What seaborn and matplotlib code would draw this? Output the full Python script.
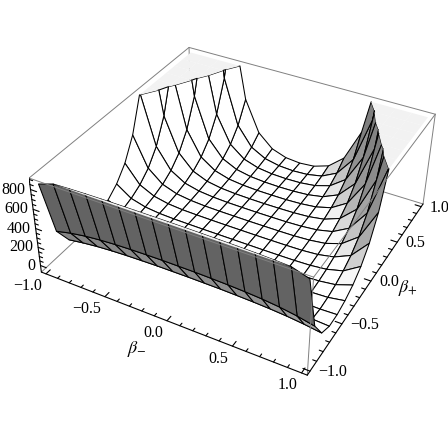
import numpy as np
import matplotlib
matplotlib.use('Agg')
import matplotlib.pyplot as plt
import seaborn as sns
from mpl_toolkits.mplot3d import proj3d
from mpl_toolkits.mplot3d.art3d import Poly3DCollection

# ── data: surface height (symmetric in beta_minus) ──
beta_minus_half = [0, .125, .25, .375, .5, .625, .75, .875, 1]
beta_plus = [-1, -.875, -.75, -.625, -.5, -.375, -.25, -.125, 0, .125, .25, .375, .5, .625, .75, .875, 1]
z_half = [
    [984, 983, 980, 975, 966, 951, 928, 894, 842],
    [358, 358, 355, 351, 344, 333, 316, 290, 253],
    [128, 127, 126, 122, 117, 109, 97, 79, 55],
    [45, 44, 43, 41, 37, 31, 23, 13, 3],
    [15, 14, 13, 12, 9, 6, 2, 0, 6],
    [4, 4, 3, 2, 1, 0, 1, 9, 38],
    [0, 0, 0, 0, 0, 2, 10, 32, 92],
    [-1, -1, -1, 0, 2, 8, 26, 70, 180],
    [-1, -1, 0, 2, 6, 19, 52, 129, 320],
    [-1, 0, 1, 4, 14, 36, 92, 224, 545],
    [-1, 0, 2, 9, 25, 63, 158, 379, 912],
    [-1, 1, 5, 16, 43, 108, 266, 633, 1518],
    [0, 1, 9, 27, 73, 180, 442, 1050, 2511],
    [0, 3, 15, 46, 121, 299, 731, 1734, 4143],
    [0, 5, 25, 76, 199, 494, 1208, 2865, 6847],
    [0, 9, 42, 127, 331, 816, 1993, 4726, 11290],
    [0, 14, 69, 209, 545, 1345, 3286, 7790, 18600],
]
z_top = 894
x_lim = (-1.04, 1.04)
y_lim = (-1.04, 1.04)
z_lim = (-73, 914)
x_ticks = [-1.0, -0.5, 0.0, 0.5, 1.0]
y_ticks = [-1.0, -0.5, 0.0, 0.5, 1.0]
z_ticks = [0, 200, 400, 600, 800]
minor_ticks = [-.9, -.8, -.7, -.6, -.4, -.3, -.2, -.1, .1, .2, .3, .4, .6, .7, .8, .9]
z_minor = [50, 100, 150, 250, 300, 350, 450, 500, 550, 650, 700, 750, 850, 900]

sns.set_theme(style='white')
plt.rcParams['font.family'] = ['Liberation Serif', 'DejaVu Serif']
plt.rcParams['mathtext.fontset'] = 'stix'

W, H = 448, 446
fig = plt.figure(figsize=(W / 100, H / 100), dpi=100)
ax = fig.add_subplot(projection='3d', computed_zorder=False)
ax.set_xlim(*x_lim, view_margin=0)
ax.set_ylim(*y_lim, view_margin=0)
ax.set_zlim(*z_lim, view_margin=0)
ax.set_axis_off()
ax.patch.set_alpha(0)

# camera fitted to the box corners of the picture
box_h = 0.391
ax.view_init(elev=35.93, azim=-62.07, roll=-0.67)
ax.set_proj_type('persp', focal_length=0.477)
ax.set_box_aspect((1, 1, box_h))

s, tx, ty = 2232.2, 241.2, 192.0
inv = ax.transLimits.inverted()
v0 = inv.transform((0, 0))
v1 = inv.transform((1, 1))
left = s * v0[0] + tx
right = s * v1[0] + tx
top = -s * v1[1] + ty
bottom = -s * v0[1] + ty
ax.set_position([left / W, 1 - bottom / H, (right - left) / W, (bottom - top) / H])

# ── surface ──
z_half = np.array(z_half, float)
zz = np.hstack([z_half[:, :0:-1], z_half])
mm = np.array([-v for v in beta_minus_half[:0:-1]] + beta_minus_half)
pp = np.array(beta_plus)
shade_map = sns.blend_palette(['#636363', '#ffffff'], as_cmap=True)
light = np.array([.6, -.5, .6])
bx, by, bz = 1 / 2.08, 1 / 2.08, box_h / 987


def clip(pts, below=True):
    out = []
    for a, b in zip(pts, pts[1:] + pts[:1]):
        ain = a[2] <= z_top if below else a[2] >= z_top
        bin_ = b[2] <= z_top if below else b[2] >= z_top
        if ain:
            out.append((a[0], a[1], min(a[2], z_top)) if below else (a[0], a[1], z_top))
        if ain != bin_:
            u = (z_top - a[2]) / (b[2] - a[2])
            out.append((a[0] + u * (b[0] - a[0]), a[1] + u * (b[1] - a[1]), z_top))
    return out


polys, faces, edges = [], [], []
for i in range(len(pp) - 1):
    for j in range(len(mm) - 1):
        q = [(mm[j], pp[i], zz[i, j]), (mm[j + 1], pp[i], zz[i, j + 1]),
             (mm[j + 1], pp[i + 1], zz[i + 1, j + 1]), (mm[j], pp[i + 1], zz[i + 1, j])]
        d1 = np.array(q[2]) - np.array(q[0])
        d2 = np.array(q[3]) - np.array(q[1])
        n = np.cross(d1 * [bx, by, bz], d2 * [bx, by, bz])
        n = n / np.linalg.norm(n)
        tone = np.clip(.62 + .9 * n.dot(light), 0, 1)
        tone = max((tone - .38) / .62, 0)
        low = clip(q, True)
        high = clip(q, False)
        if len(high) >= 3:
            polys.append(high)
            faces.append('#f2f2f2')
            edges.append((0, 0, 0, 0))
        if len(low) >= 3:
            polys.append(low)
            faces.append(shade_map(tone))
            edges.append((0, 0, 0, 1))

surf = Poly3DCollection(polys, facecolors=faces, edgecolors=edges, linewidths=.75, zorder=2)
ax.add_collection3d(surf, autolim=False)

# ── box ──
x0, x1 = x_lim
y0, y1 = y_lim
z0, z1 = z_lim
grey = dict(color='#808080', lw=.7)
for a, b in [((x0, y1, z1), (x0, y0, z1)), ((x0, y1, z1), (x1, y1, z1)), ((x1, y1, z0), (x1, y1, z1)),
             ((x0, y0, z0), (x0, y1, z0)), ((x0, y1, z0), (x1, y1, z0)), ((x0, y1, z0), (x0, y1, z1))]:
    ax.plot(*zip(a, b), zorder=1, **grey)
for a, b in [((x0, y0, z1), (x1, y0, z1)), ((x1, y0, z1), (x1, y1, z1)), ((x1, y0, z0), (x1, y0, z1))]:
    ax.plot(*zip(a, b), zorder=3, **grey)
black = dict(color='black', lw=.8, zorder=3)
ax.plot(*zip((x0, y0, z0), (x1, y0, z0)), **black)
ax.plot(*zip((x1, y0, z0), (x1, y1, z0)), **black)
ax.plot(*zip((x0, y0, z0), (x0, y0, z1)), **black)

for vals, ln in [(x_ticks, .05), (minor_ticks, .028)]:
    for v in vals:
        ax.plot([v, v], [y0, y0 + ln], [z0, z0], **black)
        ax.plot([x1, x1 - ln], [v, v], [z0, z0], **black)
for vals, ln in [(z_ticks, .05), (z_minor, .028)]:
    for v in vals:
        ax.plot([x0, x0 + ln], [y0, y0], [v, v], **black)

M = ax.get_proj()


def label(txt, pos, off, ha='center', size=11.5):
    xv, yv, _ = proj3d.proj_transform(pos[0], pos[1], pos[2], M)
    ax.annotate(txt, xy=(xv, yv), xytext=off, textcoords='offset pixels', ha=ha, va='center',
                fontsize=size, color='black', zorder=4, annotation_clip=False)


for v in x_ticks:
    label(f'{v:.1f}'.replace('-', '\u2212'), (v, y0, z0), (-4, -12.5), ha='right')
for v in y_ticks:
    label(f'{v:.1f}'.replace('-', '\u2212'), (x1, v, z0), (8, -1), ha='left')
for v in z_ticks:
    label(str(v), (x0, y0, v), (-5, 0), ha='right')
label(r'$\beta_{-}$', (0, y0, z0), (-30, -28), size=13)
label(r'$\beta_{+}$', (x1, 0, z0), (37, -7), size=13)

fig.savefig('out.png', dpi=100)
